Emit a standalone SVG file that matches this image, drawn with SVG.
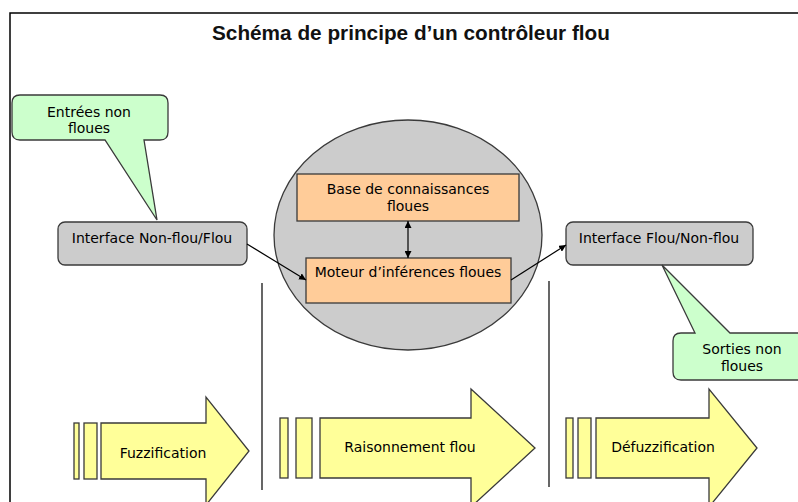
<svg xmlns="http://www.w3.org/2000/svg" width="798" height="502" viewBox="0 0 798 502">
<defs>
<marker id="ah" viewBox="0 0 10 10" refX="10" refY="5" markerWidth="7" markerHeight="7" orient="auto-start-reverse" markerUnits="userSpaceOnUse">
<path d="M0,0 L10,5 L0,10 Z" fill="#000"/>
</marker>
<style>
.t{font-family:"DejaVu Sans",Verdana,sans-serif;font-size:14px;fill:#000;text-anchor:middle}
.sh{stroke:#3a3a3a;stroke-width:1.3}
.gray{fill:#cccccc}
.green{fill:#ccffcc}
.orange{fill:#ffcc99}
.yellow{fill:#ffff99}
.ln{stroke:#000;stroke-width:1.2;fill:none}
</style>
</defs>
<rect width="798" height="502" fill="#fff"/>
<path d="M10 502 V13 H798" fill="none" stroke="#000" stroke-width="1.5"/>
<text x="411" y="40" font-family="Liberation Sans,Arial,sans-serif" font-size="21" font-weight="bold" text-anchor="middle" fill="#111" textLength="398" lengthAdjust="spacingAndGlyphs">Schéma de principe d’un contrôleur flou</text>

<g id="cercle">
<ellipse cx="408" cy="235" rx="134" ry="115" class="gray sh"/>
</g>
<g id="entrees">
<path class="green sh" d="M20 95 H160 Q168 95 168 103 V132 Q168 140 160 140 H144 L157 220 L105 140 H20 Q12 140 12 132 V103 Q12 95 20 95 Z"/>
<text class="t" x="89" y="117">Entrées non</text>
<text class="t" x="89" y="133">floues</text>
</g>
<g id="interface1">
<rect x="58" y="222" width="189" height="43" rx="7" class="gray sh"/>
<text class="t" x="152" y="243">Interface Non-flou/Flou</text>
</g>
<g id="base">
<rect x="297" y="174" width="222" height="47" class="orange sh"/>
<text class="t" x="408" y="194">Base de connaissances</text>
<text class="t" x="408" y="211">floues</text>
</g>
<g id="moteur">
<rect x="306" y="258" width="205" height="45" class="orange sh"/>
<text class="t" x="408" y="277">Moteur d’inférences floues</text>
</g>
<g id="interface2">
<rect x="566" y="222" width="187" height="43" rx="7" class="gray sh"/>
<text class="t" x="659" y="243">Interface Flou/Non-flou</text>
</g>
<g id="sorties">
<path class="green sh" d="M681 333 H695 L662 265 L730 333 H804 Q812 333 812 341 V372 Q812 380 804 380 H681 Q673 380 673 372 V341 Q673 333 681 333 Z"/>
<text class="t" x="742" y="354">Sorties non</text>
<text class="t" x="742" y="371">floues</text>
</g>
<g id="fuzzification">
<rect x="74" y="423" width="5" height="56" class="yellow sh"/>
<rect x="84" y="423" width="13" height="56" class="yellow sh"/>
<path d="M101 423 H206 V397 L249 451 L206 505 V479 H101 Z" class="yellow sh"/>
<text class="t" x="163" y="458">Fuzzification</text>
</g>
<g id="raisonnement">
<rect x="280" y="418" width="8" height="60" class="yellow sh"/>
<rect x="296" y="418" width="16" height="60" class="yellow sh"/>
<path d="M320 418 H471 V389 L535 448 L471 507 V478 H320 Z" class="yellow sh"/>
<text class="t" x="410" y="452">Raisonnement flou</text>
</g>
<g id="defuzzification">
<rect x="566" y="418" width="7" height="60" class="yellow sh"/>
<rect x="578" y="418" width="13" height="60" class="yellow sh"/>
<path d="M596 418 H709 V389 L757 448 L709 507 V478 H596 Z" class="yellow sh"/>
<text class="t" x="663" y="452">Défuzzification</text>
</g>
<g id="connecteurs">
<line class="ln" x1="247" y1="244" x2="306" y2="280" marker-end="url(#ah)"/>
<line class="ln" x1="511" y1="280" x2="566" y2="245" marker-end="url(#ah)"/>
<line class="ln" x1="408" y1="221" x2="408" y2="258" marker-start="url(#ah)" marker-end="url(#ah)"/>
<line class="ln" x1="262" y1="283" x2="262" y2="490"/>
<line class="ln" x1="549" y1="281" x2="549" y2="487"/>
</g>
</svg>
